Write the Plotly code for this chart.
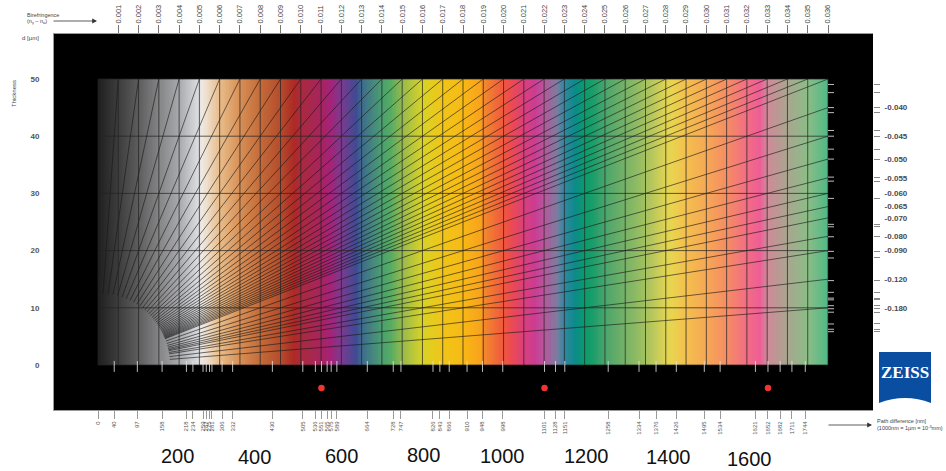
import plotly.graph_objects as go

# ---------- data ----------
birefringence_top = [round(0.001 * i, 3) for i in range(1, 37)]
birefringence_right_ticks = [0.0367, 0.0378, 0.040, 0.0408, 0.0439, 0.045, 0.0477, 0.050, 0.0548, 0.056,
                             0.0618, 0.0732, 0.0745, 0.0803, 0.0906, 0.0962, 0.122, 0.1417, 0.154, 0.158,
                             0.1736, 0.183, 0.195, 0.251, 0.288, 0.309]
birefringence_labels = [0.040, 0.045, 0.050, 0.055, 0.060, 0.065, 0.070, 0.080, 0.090, 0.120, 0.180]
path_ticks = [0, 40, 97, 158, 218, 234, 259, 267, 275, 281, 306, 332, 430, 505, 536, 551, 565, 575, 589,
              664, 728, 747, 826, 843, 866, 910, 948, 998, 1101, 1128, 1151, 1258, 1334, 1376, 1426,
              1495, 1534, 1621, 1652, 1682, 1711, 1744]
big_ticks = [200, 400, 600, 800, 1000, 1200, 1400, 1600]
red_points = [551, 1101, 1652]
thickness_ticks = [0, 10, 20, 30, 40, 50]
color_nm = [0, 50, 100, 150, 200, 247, 257, 300, 350, 400, 450, 483, 500, 550, 572, 600, 637, 650, 700,
            722, 750, 800, 850, 900, 943, 950, 1000, 1015, 1050, 1077, 1100, 1132, 1150, 1177, 1200, 1220,
            1250, 1300, 1350, 1397, 1415, 1450, 1500, 1550, 1600, 1632, 1650, 1700, 1750, 1800]
color_hex = ["#1f1f1f", "#3d3d3d", "#5d5d5d", "#848486", "#a8a9ad", "#dcdde0", "#efe9e2", "#e9bd8a",
             "#d88f55", "#c36b3a", "#b44c2c", "#ad2a25", "#aa2a3c", "#a6245f", "#a62277", "#7b3a8e",
             "#3f4b94", "#3e6a8e", "#4b9f70", "#55ac62", "#96b94e", "#d9d226", "#f0c518", "#f8b916",
             "#f8a31c", "#f28a2c", "#f0583f", "#ee4d4b", "#da3f7b", "#cb3c92", "#b8569c", "#7a7da0",
             "#2f87a0", "#0c8b8a", "#0a9b6b", "#1a9d6a", "#4aa56b", "#76b267", "#a3c15f", "#dcd356",
             "#e9d44f", "#f4bf4e", "#f6a855", "#f58d63", "#f26d84", "#ee5d96", "#cf8a98", "#a9a68f",
             "#8bbd87", "#4fb986"]

# ---------- layout geometry ----------
W, H = 946, 471
PL, PR, PT, PB = 54, 873, 34, 410      # black panel in pixels
X0, X1800, Y0, Y50 = 98, 828, 365, 79  # gradient field in pixels
PATH_MAX, D_MAX = 1800, 50
sx = (X1800 - X0) / PATH_MAX
sy = (Y0 - Y50) / D_MAX
x_range = [(PL - X0) / sx, (PR - X0) / sx]
y_range = [(Y0 - PB) / sy, (Y0 - PT) / sy]


def px(x):
    return (x - PL) / (PR - PL)


def py(y):
    return (PB - y) / (PB - PT)


def gamma_end(dn):
    """Point where a birefringence ray leaves the field."""
    g = dn * 1000 * D_MAX
    if g <= PATH_MAX:
        return g, D_MAX
    return PATH_MAX, PATH_MAX / (dn * 1000)


# ---------- traces ----------
fig = go.Figure()

# colour field
step = 2
edges = list(range(0, PATH_MAX + step, step))
mids = [e + step / 2 for e in edges[:-1]]
colorscale = [[n / PATH_MAX, c] for n, c in zip(color_nm, color_hex)]
fig.add_trace(go.Heatmap(x=edges, y=[0, D_MAX], z=[mids], zmin=0, zmax=PATH_MAX, colorscale=colorscale,
                         showscale=False, hoverinfo="skip"))

# rays, cut off by the quarter ellipse around the origin
ARC_X, ARC_Y = 72 / sx, 72 / sy
rx, ry = [], []
for dn in birefringence_top + birefringence_labels:
    g, d = gamma_end(dn)
    t = 1 / ((g / ARC_X) ** 2 + (d / ARC_Y) ** 2) ** 0.5
    rx += [g * t, g, None]
    ry += [d * t, d, None]
fig.add_trace(go.Scatter(x=rx, y=ry, mode="lines", line=dict(color="rgba(25,25,25,0.78)", width=0.8),
                         hoverinfo="skip", showlegend=False))

# vertical / horizontal grid
gx, gy = [], []
for dn in birefringence_top:
    g = dn * 1000 * D_MAX
    gx += [g, g, None]
    gy += [0, D_MAX, None]
gx += [0, 0, None]
gy += [0, D_MAX, None]
for d in thickness_ticks:
    gx += [0, PATH_MAX, None]
    gy += [d, d, None]
fig.add_trace(go.Scatter(x=gx, y=gy, mode="lines", line=dict(color="rgba(35,35,35,0.72)", width=1),
                         hoverinfo="skip", showlegend=False))

# white ticks over the bottom of the field
tx, ty = [], []
for p in path_ticks[1:]:
    tx += [p, p, None]
    ty += [0.7, -1.2, None]
fig.add_trace(go.Scatter(x=tx, y=ty, mode="lines", line=dict(color="rgba(225,225,225,0.85)", width=1),
                         hoverinfo="skip", showlegend=False))

# white ticks at the right of the field
wx, wy = [], []
for dn in birefringence_right_ticks:
    _, d = gamma_end(dn)
    wx += [PATH_MAX, PATH_MAX + 6 / sx, None]
    wy += [d, d, None]
fig.add_trace(go.Scatter(x=wx, y=wy, mode="lines", line=dict(color="rgba(225,225,225,0.85)", width=1),
                         hoverinfo="skip", showlegend=False))

# long ticks under the panel
lx, ly = [], []
for b in big_ticks:
    lx += [b, b, None]
    ly += [(Y0 - 432) / sy if b == 1000 else y_range[0], (Y0 - 438) / sy, None]
fig.add_trace(go.Scatter(x=lx, y=ly, mode="lines", line=dict(color="#555555", width=1), cliponaxis=False,
                         hoverinfo="skip", showlegend=False))

# red points
fig.add_trace(go.Scatter(x=red_points, y=[-4] * len(red_points), mode="markers",
                         marker=dict(color="#f0352f", size=6.5), hoverinfo="skip", showlegend=False))

# helpers so that the overlay axes get drawn
for xa, ya in (("x2", "y"), ("x", "y2"), ("x", "y3")):
    fig.add_trace(go.Scatter(x=[None], y=[None], xaxis=xa, yaxis=ya, mode="markers", hoverinfo="skip",
                             showlegend=False))

# ---------- axes ----------
tick_font = dict(family="Liberation Sans", size=6, color="#555555")

fig.update_layout(
    template="none",
    width=W, height=H, autosize=False,
    margin=dict(l=PL, r=W - PR, t=PT, b=H - PB, pad=0),
    paper_bgcolor="white", plot_bgcolor="black", showlegend=False,
    xaxis=dict(range=x_range, showgrid=False, zeroline=False, showline=True, linecolor="#999999", linewidth=1,
               automargin=False, tickmode="array", tickvals=path_ticks, ticktext=[str(v) for v in path_ticks],
               tickangle=-90, ticks="outside", ticklen=8, tickcolor="#999999", tickwidth=1, tickfont=tick_font),
    xaxis2=dict(range=[v / (D_MAX * 1000) for v in x_range], overlaying="x", side="top", anchor="y",
                showgrid=False, zeroline=False, showline=True, linecolor="#999999", linewidth=1, automargin=False,
                tickmode="array", tickvals=birefringence_top, ticktext=[f"{v:.3f}" for v in birefringence_top],
                tickangle=-90, ticks="outside", ticklen=8, tickcolor="#777777", tickwidth=1,
                tickfont=dict(family="Liberation Sans", size=7.5, color="#444444")),
    yaxis=dict(range=y_range, showgrid=False, zeroline=False, showline=True, linecolor="#999999", linewidth=1,
               automargin=False, tickmode="array", tickvals=thickness_ticks,
               ticktext=[str(v) for v in thickness_ticks],
               ticks="outside", ticklen=12, tickcolor="rgba(0,0,0,0)",
               tickfont=dict(family="Liberation Sans", size=8, color="#555555", weight="bold")),
    yaxis2=dict(range=y_range, overlaying="y", side="right", anchor="x", showgrid=False, zeroline=False,
                showline=False, automargin=False, tickmode="array",
                tickvals=[gamma_end(v)[1] for v in birefringence_right_ticks],
                showticklabels=False,
                ticks="outside", ticklen=6, tickcolor="#888888", tickwidth=1),
    yaxis3=dict(range=y_range, overlaying="y", side="right", anchor="x", showgrid=False, zeroline=False,
                showline=False, automargin=False, tickmode="array",
                tickvals=[gamma_end(v)[1] for v in birefringence_labels],
                ticktext=[f"-{v:.3f}" for v in birefringence_labels],
                ticks="outside", ticklen=9, tickcolor="rgba(0,0,0,0)",
                tickfont=dict(family="Liberation Sans", size=8, color="#4a4a4a", weight="bold")),
)


# ---------- texts ----------
def note(text, x, y, size=5.5, anchor="left", color="#444444", family="Liberation Sans", angle=0, **kw):
    fig.add_annotation(text=text, x=px(x), y=py(y), xref="paper", yref="paper", xanchor=anchor, yanchor="middle",
                       showarrow=False, font=dict(family=family, size=size, color=color), textangle=angle,
                       borderpad=0, borderwidth=0, **kw)


note("Birefringence", 27, 15)
note("(n<sub>γ</sub> – n<sub>α</sub>)", 27, 21)
note("d [µm]", 39, 38, size=6, anchor="right")
note("Thickness", 14, 94, size=6, anchor="center", angle=-90)
note("Path difference [nm]", 877, 421)
note("(1000nm = 1µm = 10<sup>-3</sup>mm)", 877, 428)

big_labels = ["200", "400", "600", "800", "1000", "1200", "1400", "1600"]
big_cx = [177, 254, 341, 423, 502, 586, 668, 749]
big_cy = [456, 457, 456, 455, 456, 456, 456.5, 459]
for t, cx, cy in zip(big_labels, big_cx, big_cy):
    note(t, cx, cy, size=20, anchor="center", color="#111111")

for x_end, x_start, y in ((97, 52, 21), (872, 827, 425)):
    fig.add_annotation(x=px(x_end), y=py(y), xref="paper", yref="paper", ax=x_start - x_end, ay=0,
                       axref="pixel", ayref="pixel", text="", showarrow=True, arrowhead=2, arrowsize=1.2,
                       arrowwidth=0.8, arrowcolor="#333333")

# ZEISS logo
LX0, LX1, LY0, LY1, LY2 = 879, 931, 352, 403, 398
fig.add_shape(type="path", xref="paper", yref="paper", line_width=0, fillcolor="#0a4ea2",
              path=(f"M {px(LX0)} {py(LY0)} L {px(LX1)} {py(LY0)} L {px(LX1)} {py(LY1)} "
                    f"Q {px((LX0 + LX1) / 2)} {py(2 * LY2 - LY1)} {px(LX0)} {py(LY1)} Z"))
note("ZEISS", (LX0 + LX1) / 2, 372, size=17, anchor="center", color="white", family="Liberation Serif")
fig.layout.annotations[-1].font.weight = "bold"

fig.write_html("out.html", config={"displayModeBar": False},
               post_script="document.body.style.margin='0';document.documentElement.style.overflow='hidden';")
